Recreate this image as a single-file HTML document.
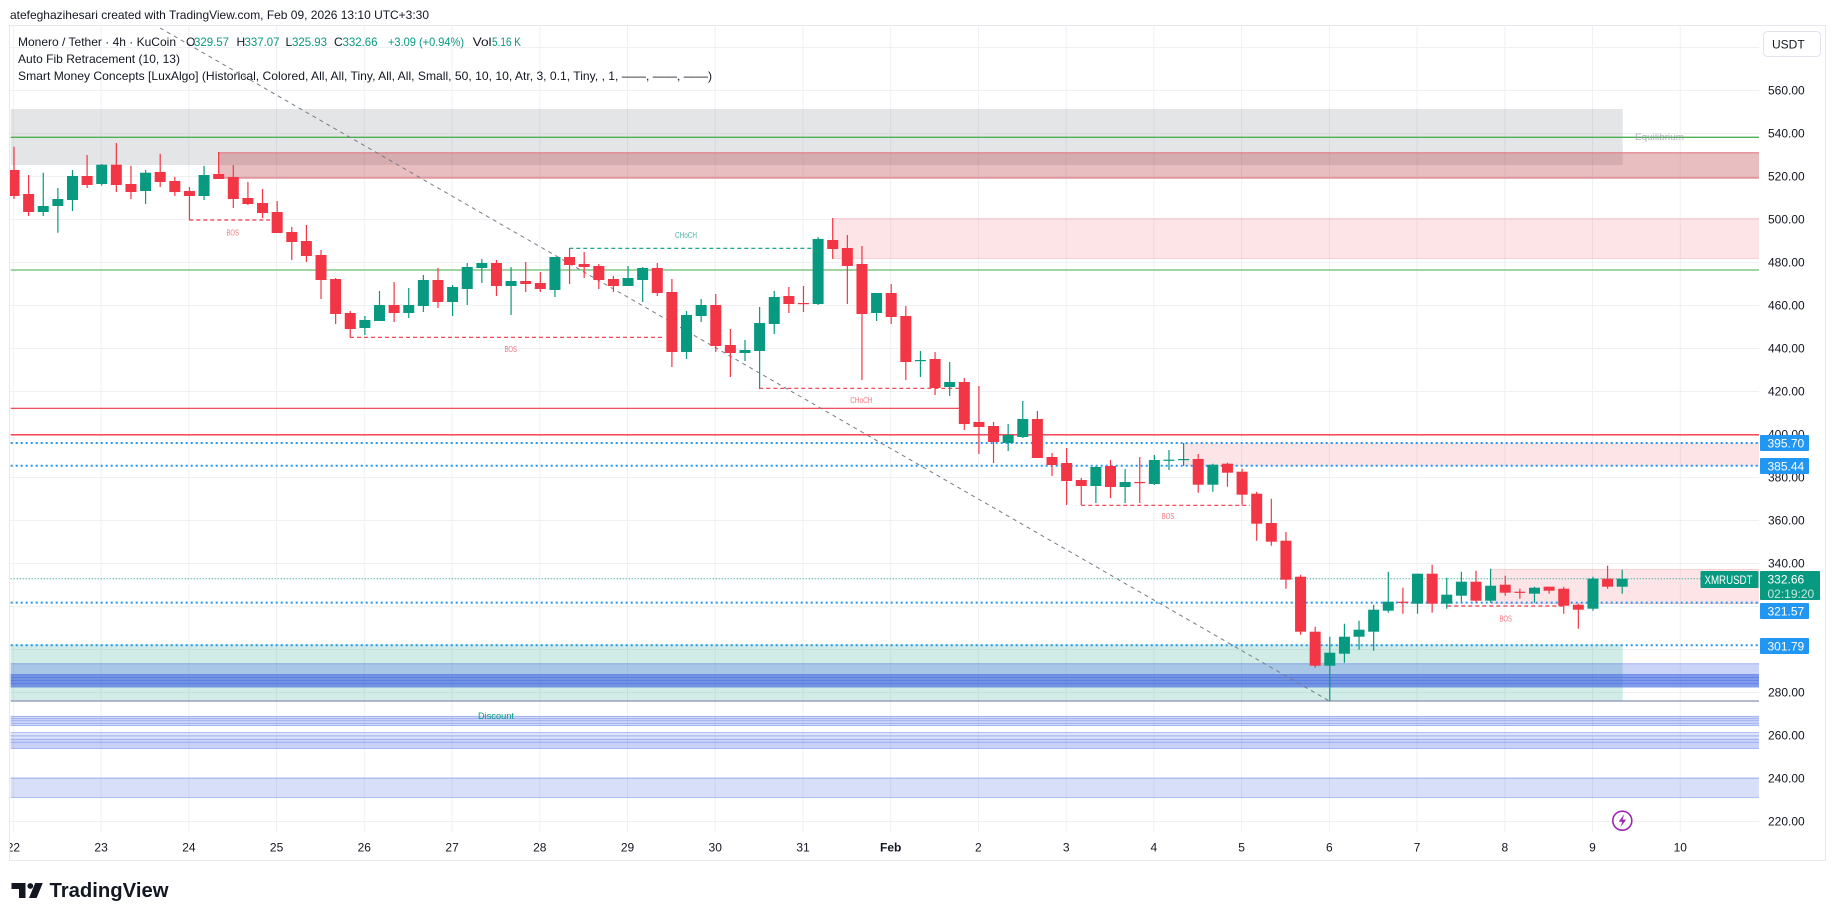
<!DOCTYPE html>
<html><head><meta charset="utf-8">
<style>
html,body{margin:0;padding:0;background:#fff;width:1835px;height:921px;overflow:hidden}
svg{display:block}
text{font-family:"Liberation Sans",Arial,sans-serif}
</style></head>
<body>
<svg width="1835" height="921" viewBox="0 0 1835 921" xmlns="http://www.w3.org/2000/svg">
<defs>
<clipPath id="plot"><rect x="10" y="26" width="1749" height="806"/></clipPath>
<clipPath id="pane"><rect x="10" y="26" width="1815" height="835"/></clipPath>
</defs>
<rect width="1835" height="921" fill="#fff"/>

<!-- header -->
<text x="10" y="19" font-size="12" fill="#131722" textLength="419" lengthAdjust="spacingAndGlyphs">atefeghazihesari created with TradingView.com, Feb 09, 2026 13:10 UTC+3:30</text>

<!-- pane border -->
<rect x="9.5" y="25.5" width="1816" height="835" fill="none" stroke="#e6e8ee" stroke-width="1"/>

<g clip-path="url(#plot)">
<!-- grid -->
<g stroke="#eff1f4" stroke-width="1">
<path d="M10 47.5H1759M10 90.5H1759M10 133.5H1759M10 176.5H1759M10 219.5H1759M10 262.5H1759M10 305.5H1759M10 348.5H1759M10 391.5H1759M10 434.5H1759M10 477.5H1759M10 520.5H1759M10 563.5H1759M10 606.5H1759M10 649.5H1759M10 692.5H1759M10 735.5H1759M10 778.5H1759M10 821.5H1759"/>
<path d="M13.4 26V832M101.1 26V832M188.9 26V832M276.6 26V832M364.3 26V832M452.1 26V832M539.8 26V832M627.5 26V832M715.2 26V832M803 26V832M890.7 26V832M978.4 26V832M1066.2 26V832M1153.9 26V832M1241.6 26V832M1329.4 26V832M1417.1 26V832M1504.8 26V832M1592.5 26V832M1680.3 26V832"/>
</g>

<!-- premium gray zone -->
<rect x="10.7" y="109" width="1612" height="56" fill="#787b86" fill-opacity="0.2"/>
<!-- dark red OB -->
<rect x="218" y="152.3" width="1541" height="26" fill="rgb(178,40,51)" fill-opacity="0.3"/>
<path d="M218 152.8H1759M218 178H1759" stroke="#e07f88" stroke-width="1.2"/>
<!-- light red zone -->
<rect x="832" y="218" width="927" height="41" fill="#f23645" fill-opacity="0.13"/>
<path d="M832 218.5H1759M832 258.5H1759" stroke="#f23645" stroke-opacity="0.12" stroke-width="1"/>
<!-- light red zone 2 -->
<rect x="1183" y="443" width="576" height="23" fill="#f23645" fill-opacity="0.13"/>
<!-- light red zone 3 -->
<rect x="1491" y="569" width="268" height="35" fill="#f23645" fill-opacity="0.13"/>
<path d="M1491 569.5H1759M1491 603.5H1759" stroke="#f23645" stroke-opacity="0.12" stroke-width="1"/>

<!-- discount teal zone -->
<rect x="10.7" y="644.3" width="1612" height="56.7" fill="rgb(8,153,129)" fill-opacity="0.19"/>

<!-- blue bands -->
<g fill="rgb(58,96,224)">
<rect x="10.7" y="663.3" width="1748.3" height="24.4" fill-opacity="0.27"/>
<rect x="10.7" y="674.3" width="1748.3" height="12.4" fill-opacity="0.5"/>
<rect x="10.7" y="716" width="1748.3" height="9.7" fill-opacity="0.25"/>
<rect x="10.7" y="732.3" width="1748.3" height="16.4" fill-opacity="0.17"/>
<rect x="10.7" y="738.7" width="1748.3" height="10" fill-opacity="0.13"/>
<rect x="10.7" y="777.7" width="1748.3" height="20" fill-opacity="0.2"/>
</g>
<g stroke="rgb(58,96,224)" stroke-width="0.9" stroke-opacity="0.35" fill="none">
<path d="M10.7 663.8H1759M10.7 674.5H1759M10.7 677.5H1759M10.7 680.5H1759M10.7 683.5H1759M10.7 687H1759"/>
<path d="M10.7 716.3H1759M10.7 718.7H1759M10.7 720.7H1759M10.7 723.3H1759M10.7 725.5H1759"/>
<path d="M10.7 732.6H1759M10.7 736H1759M10.7 739.3H1759M10.7 742.3H1759M10.7 748.4H1759"/>
<path d="M10.7 778H1759M10.7 797.4H1759"/>
</g>
<path d="M10.7 701H1759" stroke="#8890b3" stroke-width="1.3"/>

<!-- fib / level lines -->
<path d="M10.7 137.3H1759" stroke="#4caf50" stroke-width="1.4"/>
<path d="M10.7 270H1759" stroke="#81c784" stroke-width="1.4"/>
<path d="M10.7 408.3H960" stroke="#f23645" stroke-width="1.1"/>
<path d="M10.7 434.8H1759" stroke="#f23645" stroke-width="1.3"/>

<!-- blue dotted liquidity lines -->
<g stroke="#2196f3" stroke-width="2" stroke-dasharray="2 3">
<path d="M10.7 443H1759M10.7 465.7H1759M10.7 602.6H1759M10.7 645.3H1759"/>
</g>
<!-- current price dotted -->
<path d="M10.7 578.8H1759" stroke="#089981" stroke-width="1" stroke-dasharray="1 2"/>

<!-- structure lines -->
<path d="M569.3 248.3H813" stroke="#089981" stroke-width="1.2" stroke-dasharray="4 3"/>
<g stroke="#f23645" stroke-width="1.2" stroke-dasharray="4 3">
<path d="M189.3 220H270M350 337.3H663M759.3 388.3H960M1081.3 505.3H1250M1447.3 606H1563"/>
</g>

<!-- diagonal trend line -->
<path d="M160 28L1328.5 700.5" stroke="#787b86" stroke-width="1" stroke-dasharray="4 4"/>

<!-- candles: red -->
<path fill="none" stroke="#f23645" stroke-width="1.2" d="M14 146.7V199M28.62 175V216M87.1 155V188M116.34 143V192M130.96 165.7V199M160.2 153.7V187M174.82 176.7V196M189.44 187V220M218.68 152V179M233.3 165V208M247.92 182V205M262.54 189V218M277.16 201V233M291.78 227V260M306.4 225V262M321.02 250V299M335.64 278V324M350.26 311V337.7M394.12 282V322M437.98 268V308M496.46 260V296M525.7 262V292M540.32 272V292M569.56 248V284M584.18 252V278M598.8 264V289M613.42 276V292M657.28 263V296M671.9 279V367M715.76 294V352M730.38 329V377M788.86 287V313M803.48 286V312M832.72 218V259M847.34 235V304M861.96 246V380M891.2 284V324M905.82 306V380M935.06 352V395M964.3 378V430M978.92 386V454M993.54 422V463M1037.4 411V458M1052.02 453V476M1066.64 448V505M1081.26 478V505M1110.5 460V498M1139.74 457V503M1198.22 454V492.7M1227.46 462.7V486.7M1242.08 468.7V504.7M1256.7 491.7V540.7M1271.32 498.7V545.7M1285.94 532V588.7M1300.56 574.7V634.7M1315.18 626.7V667.7M1402.9 587.7V613.7M1432.14 564.7V612.7M1476 570.7V602.7M1505.24 575.7V595.7M1519.86 588.7V598.7M1549.1 586.7V593.7M1563.72 586.7V613.7M1578.34 603.7V628.7M1607.58 565.7V588.7"/>
<g fill="#f23645">
<rect x="8.5" y="170" width="11" height="26"/>
<rect x="23.12" y="194" width="11" height="18"/>
<rect x="81.6" y="176" width="11" height="9"/>
<rect x="110.84" y="164.7" width="11" height="20.3"/>
<rect x="125.46" y="184" width="11" height="8"/>
<rect x="154.7" y="172" width="11" height="10"/>
<rect x="169.32" y="181" width="11" height="11"/>
<rect x="183.94" y="191" width="11" height="5"/>
<rect x="213.18" y="174" width="11" height="5"/>
<rect x="227.8" y="177" width="11" height="22"/>
<rect x="242.42" y="198" width="11" height="6"/>
<rect x="257.04" y="203" width="11" height="10"/>
<rect x="271.66" y="212" width="11" height="21"/>
<rect x="286.28" y="232" width="11" height="10"/>
<rect x="300.9" y="241" width="11" height="15"/>
<rect x="315.52" y="255" width="11" height="25"/>
<rect x="330.14" y="279" width="11" height="35"/>
<rect x="344.76" y="313" width="11" height="16"/>
<rect x="388.62" y="305" width="11" height="8"/>
<rect x="432.48" y="280" width="11" height="22"/>
<rect x="490.96" y="263" width="11" height="23"/>
<rect x="520.2" y="281" width="11" height="3"/>
<rect x="534.82" y="283" width="11" height="6"/>
<rect x="564.06" y="257" width="11" height="8"/>
<rect x="578.68" y="264" width="11" height="3"/>
<rect x="593.3" y="266" width="11" height="14"/>
<rect x="607.92" y="279" width="11" height="7"/>
<rect x="651.78" y="268" width="11" height="25"/>
<rect x="666.4" y="292" width="11" height="60"/>
<rect x="710.26" y="305" width="11" height="41"/>
<rect x="724.88" y="345" width="11" height="8"/>
<rect x="783.36" y="296" width="11" height="8"/>
<rect x="797.98" y="303" width="11" height="1.2"/>
<rect x="827.22" y="240" width="11" height="9"/>
<rect x="841.84" y="248" width="11" height="18"/>
<rect x="856.46" y="264" width="11" height="50"/>
<rect x="885.7" y="293" width="11" height="24"/>
<rect x="900.32" y="316" width="11" height="46"/>
<rect x="929.56" y="359" width="11" height="29"/>
<rect x="958.8" y="382" width="11" height="42"/>
<rect x="973.42" y="422" width="11" height="5"/>
<rect x="988.04" y="426" width="11" height="16"/>
<rect x="1031.9" y="419" width="11" height="39"/>
<rect x="1046.52" y="457" width="11" height="8"/>
<rect x="1061.14" y="463" width="11" height="18"/>
<rect x="1075.76" y="480" width="11" height="6"/>
<rect x="1105" y="466" width="11" height="21"/>
<rect x="1134.24" y="482" width="11" height="1.2"/>
<rect x="1192.72" y="459" width="11" height="25.7"/>
<rect x="1221.96" y="463.7" width="11" height="9"/>
<rect x="1236.58" y="471.7" width="11" height="23"/>
<rect x="1251.2" y="493.7" width="11" height="30"/>
<rect x="1265.82" y="523" width="11" height="18.7"/>
<rect x="1280.44" y="540.7" width="11" height="39"/>
<rect x="1295.06" y="576.7" width="11" height="55"/>
<rect x="1309.68" y="631.7" width="11" height="34"/>
<rect x="1397.4" y="601.7" width="11" height="1.2"/>
<rect x="1426.64" y="573.7" width="11" height="30"/>
<rect x="1470.5" y="581.7" width="11" height="19"/>
<rect x="1499.74" y="584.7" width="11" height="8"/>
<rect x="1514.36" y="591.7" width="11" height="1.2"/>
<rect x="1543.6" y="586.7" width="11" height="4"/>
<rect x="1558.22" y="588.7" width="11" height="17"/>
<rect x="1572.84" y="604.7" width="11" height="5"/>
<rect x="1602.08" y="578.7" width="11" height="8"/>
</g>

<!-- candles: green -->
<path fill="none" stroke="#089981" stroke-width="1.2" d="M43.24 172.7V216M57.86 188V232.7M72.48 170V211M101.72 164V185.7M145.58 170V204M204.06 165.7V200M364.88 316V335M379.5 291V321M408.74 288V318M423.36 275V312M452.6 285V316M467.22 263V305M481.84 259V283M511.08 267V315M554.94 257V297M628.04 266V286M642.66 267V302M686.52 311V359M701.14 299V322M745 340V361M759.62 307V389M774.24 291V334M818.1 237V305M876.58 293V321M920.44 351V377M949.68 362V396M1008.16 424V451M1022.78 401V438M1095.88 466V503M1125.12 469V503M1154.36 455V485M1168.98 450V470M1183.6 443V466M1212.84 463.7V491.7M1329.8 636.7V700.7M1344.42 623.7V662.7M1359.04 620.7V649.7M1373.66 604.7V650.7M1388.28 571.7V612.7M1417.52 573.7V613.7M1446.76 577.7V608.7M1461.38 571.7V601.7M1490.62 568.7V602.7M1534.48 586.7V602.7M1592.96 576.7V610.7M1622.2 569.7V593.7"/>
<g fill="#089981">
<rect x="37.74" y="206" width="11" height="6"/>
<rect x="52.36" y="199" width="11" height="7"/>
<rect x="66.98" y="176" width="11" height="24"/>
<rect x="96.22" y="164.7" width="11" height="19.3"/>
<rect x="140.08" y="172.7" width="11" height="18.3"/>
<rect x="198.56" y="175" width="11" height="21"/>
<rect x="359.38" y="320" width="11" height="8"/>
<rect x="374" y="305" width="11" height="16"/>
<rect x="403.24" y="305" width="11" height="8"/>
<rect x="417.86" y="280" width="11" height="26"/>
<rect x="447.1" y="287" width="11" height="15"/>
<rect x="461.72" y="267" width="11" height="22"/>
<rect x="476.34" y="263" width="11" height="5"/>
<rect x="505.58" y="281" width="11" height="5"/>
<rect x="549.44" y="257" width="11" height="33"/>
<rect x="622.54" y="278" width="11" height="8"/>
<rect x="637.16" y="268" width="11" height="12"/>
<rect x="681.02" y="315" width="11" height="37"/>
<rect x="695.64" y="305" width="11" height="11"/>
<rect x="739.5" y="350" width="11" height="3"/>
<rect x="754.12" y="323" width="11" height="28"/>
<rect x="768.74" y="297" width="11" height="27"/>
<rect x="812.6" y="239" width="11" height="65"/>
<rect x="871.08" y="293" width="11" height="20"/>
<rect x="914.94" y="360" width="11" height="1.2"/>
<rect x="944.18" y="382" width="11" height="5"/>
<rect x="1002.66" y="435" width="11" height="8"/>
<rect x="1017.28" y="419" width="11" height="18"/>
<rect x="1090.38" y="467" width="11" height="19"/>
<rect x="1119.62" y="482" width="11" height="5"/>
<rect x="1148.86" y="460" width="11" height="24"/>
<rect x="1163.48" y="459.7" width="11" height="1.2"/>
<rect x="1178.1" y="459" width="11" height="1.2"/>
<rect x="1207.34" y="464.7" width="11" height="20"/>
<rect x="1324.3" y="652.7" width="11" height="13"/>
<rect x="1338.92" y="636.7" width="11" height="17"/>
<rect x="1353.54" y="629.7" width="11" height="7"/>
<rect x="1368.16" y="609.7" width="11" height="22"/>
<rect x="1382.78" y="601.7" width="11" height="9"/>
<rect x="1412.02" y="573.7" width="11" height="30"/>
<rect x="1441.26" y="594.7" width="11" height="9"/>
<rect x="1455.88" y="581.7" width="11" height="14"/>
<rect x="1485.12" y="585.7" width="11" height="15"/>
<rect x="1528.98" y="587.7" width="11" height="6"/>
<rect x="1587.46" y="578.7" width="11" height="30"/>
<rect x="1616.7" y="578.7" width="11" height="8"/>
</g>

<!-- SMC labels -->
<g font-size="8" text-anchor="middle">
<text x="686" y="238" fill="#089981" fill-opacity="0.75" textLength="22" lengthAdjust="spacingAndGlyphs">CHoCH</text>
<text x="232.7" y="235.5" fill="#f23645" fill-opacity="0.7" textLength="12.5" lengthAdjust="spacingAndGlyphs">BOS</text>
<text x="510.7" y="352" fill="#f23645" fill-opacity="0.7" textLength="12.5" lengthAdjust="spacingAndGlyphs">BOS</text>
<text x="861.3" y="403" fill="#f23645" fill-opacity="0.7" textLength="22" lengthAdjust="spacingAndGlyphs">CHoCH</text>
<text x="1168" y="519" fill="#f23645" fill-opacity="0.7" textLength="12.5" lengthAdjust="spacingAndGlyphs">BOS</text>
<text x="1505.7" y="621.5" fill="#f23645" fill-opacity="0.7" textLength="12.5" lengthAdjust="spacingAndGlyphs">BOS</text>
</g>
<text x="1659.5" y="140" font-size="9.5" fill="#9598a1" fill-opacity="0.75" text-anchor="middle" textLength="49" lengthAdjust="spacingAndGlyphs">Equilibrium</text>
<text x="496" y="719" font-size="9.5" fill="#089981" text-anchor="middle" textLength="36" lengthAdjust="spacingAndGlyphs">Discount</text>

<!-- lightning icon -->
<circle cx="1622.3" cy="820.7" r="9.5" fill="#fff" stroke="#9c27b0" stroke-width="1.6"/>
<path d="M1624.3 814.2L1618.6 821.8H1622.3L1620.4 827.3L1626.2 819.6H1622.5Z" fill="#9c27b0"/>
</g>

<!-- legend -->
<g font-size="12">
<text x="18" y="46" fill="#131722" textLength="158" lengthAdjust="spacingAndGlyphs">Monero / Tether · 4h · KuCoin</text>
<text x="186" y="46" fill="#131722">O</text>
<text x="194" y="46" fill="#089981" textLength="35" lengthAdjust="spacingAndGlyphs">329.57</text>
<text x="236.5" y="46" fill="#131722">H</text>
<text x="244.5" y="46" fill="#089981" textLength="35" lengthAdjust="spacingAndGlyphs">337.07</text>
<text x="285.5" y="46" fill="#131722">L</text>
<text x="292" y="46" fill="#089981" textLength="35" lengthAdjust="spacingAndGlyphs">325.93</text>
<text x="334" y="46" fill="#131722">C</text>
<text x="342.5" y="46" fill="#089981" textLength="35" lengthAdjust="spacingAndGlyphs">332.66</text>
<text x="388" y="46" fill="#089981" textLength="76" lengthAdjust="spacingAndGlyphs">+3.09 (+0.94%)</text>
<text x="472.6" y="46" fill="#131722" textLength="19" lengthAdjust="spacingAndGlyphs">Vol</text>
<text x="492" y="46" fill="#089981" textLength="29" lengthAdjust="spacingAndGlyphs">5.16 K</text>
<text x="18" y="63" fill="#131722" textLength="162" lengthAdjust="spacingAndGlyphs">Auto Fib Retracement (10, 13)</text>
<text x="18" y="80" fill="#131722" textLength="694" lengthAdjust="spacingAndGlyphs">Smart Money Concepts [LuxAlgo] (Historical, Colored, All, All, Tiny, All, All, Small, 50, 10, 10, Atr, 3, 0.1, Tiny, , 1, ——, ——, ——)</text>
</g>

<!-- price axis -->
<rect x="1763.5" y="31.5" width="57" height="25" rx="4" fill="#fff" stroke="#e0e3eb"/>
<text x="1772" y="48.5" font-size="12" fill="#131722">USDT</text>
<g font-size="12" fill="#131722">
<text x="1768" y="94.3">560.00</text>
<text x="1768" y="137.3">540.00</text>
<text x="1768" y="180.3">520.00</text>
<text x="1768" y="223.3">500.00</text>
<text x="1768" y="266.3">480.00</text>
<text x="1768" y="309.3">460.00</text>
<text x="1768" y="352.3">440.00</text>
<text x="1768" y="395.3">420.00</text>
<text x="1768" y="438.3">400.00</text>
<text x="1768" y="481.3">380.00</text>
<text x="1768" y="524.3">360.00</text>
<text x="1768" y="567.3">340.00</text>
<text x="1768" y="696.3">280.00</text>
<text x="1768" y="739.3">260.00</text>
<text x="1768" y="782.3">240.00</text>
<text x="1768" y="825.3">220.00</text>
</g>
<g fill="#2196f3">
<rect x="1760" y="435" width="49" height="16" rx="1"/>
<rect x="1760" y="458" width="49" height="16" rx="1"/>
<rect x="1760" y="603" width="49" height="16" rx="1"/>
<rect x="1760" y="638" width="49" height="16" rx="1"/>
</g>
<rect x="1700.5" y="571" width="58" height="17" rx="1" fill="#089981"/>
<rect x="1760" y="571" width="60" height="29" rx="1" fill="#089981"/>
<g font-size="12" fill="#fff">
<text x="1767.5" y="447.5">395.70</text>
<text x="1767.5" y="470.5">385.44</text>
<text x="1767.5" y="615.5">321.57</text>
<text x="1767.5" y="650.5">301.79</text>
<text x="1767.5" y="583.5">332.66</text>
<text x="1704.5" y="583.8" textLength="48" lengthAdjust="spacingAndGlyphs">XMRUSDT</text>
</g>
<text x="1767.5" y="598" font-size="12" fill="#c2e6dd">02:19:20</text>

<!-- time axis -->
<g font-size="12" fill="#131722" text-anchor="middle" clip-path="url(#pane)">
<text x="13.4" y="851.3">22</text>
<text x="101.1" y="851.3">23</text>
<text x="188.9" y="851.3">24</text>
<text x="276.6" y="851.3">25</text>
<text x="364.3" y="851.3">26</text>
<text x="452.1" y="851.3">27</text>
<text x="539.8" y="851.3">28</text>
<text x="627.5" y="851.3">29</text>
<text x="715.2" y="851.3">30</text>
<text x="803" y="851.3">31</text>
<text x="890.7" y="851.3" font-weight="bold">Feb</text>
<text x="978.4" y="851.3">2</text>
<text x="1066.2" y="851.3">3</text>
<text x="1153.9" y="851.3">4</text>
<text x="1241.6" y="851.3">5</text>
<text x="1329.4" y="851.3">6</text>
<text x="1417.1" y="851.3">7</text>
<text x="1504.8" y="851.3">8</text>
<text x="1592.5" y="851.3">9</text>
<text x="1680.3" y="851.3">10</text>
</g>

<!-- TradingView logo -->
<g fill="#131722">
<path d="M11.5 883H25.5V898H19V889H11.5Z"/>
<circle cx="30.3" cy="886" r="2.9"/>
<path d="M35.2 883H42.8L36.6 898H29Z"/>
</g>
<text x="49.5" y="897" font-size="20" font-weight="bold" fill="#131722" textLength="119" lengthAdjust="spacingAndGlyphs">TradingView</text>
</svg>
</body></html>
